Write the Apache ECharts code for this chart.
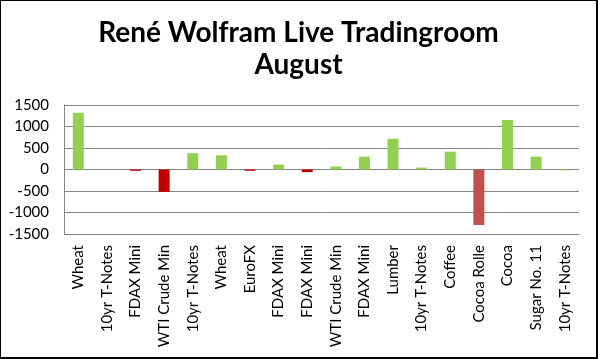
<!DOCTYPE html>
<html>
<head>
<meta charset="utf-8">
<script src="https://cdn.jsdelivr.net/npm/echarts@6/dist/echarts.min.js"></script>
<style>
html,body{margin:0;padding:0;background:#fff;}
#c{width:598px;height:359px;box-sizing:border-box;border:1px solid #000;border-right-width:2px;border-bottom-width:2px;}
</style>
</head>
<body>
<div id="c"></div>
<script>
const categories = ["Wheat","10yr T-Notes","FDAX Mini","WTI Crude Min","10yr T-Notes","Wheat","EuroFX","FDAX Mini","FDAX Mini","WTI Crude Min","FDAX Mini","Lumber","10yr T-Notes","Coffee","Cocoa Rolle","Cocoa","Sugar No. 11","10yr T-Notes"];
const values = [1320, 0, -30, -520, 380, 330, -30, 115, -60, 70, 300, 715, 45, 415, -1290, 1150, 300, -20];
const yTicks = [-1500, -1000, -500, 0, 500, 1000, 1500];

const barColors = ["#92d050","#92d050","#c00000","#c00000","#92d050","#92d050","#c00000","#92d050","#c00000","#92d050","#92d050","#92d050","#92d050","#92d050","#c0504d","#92d050","#92d050","#92d050"];

const chart = echarts.init(document.getElementById('c'), null, {renderer:'canvas'});
const font = 'Lato';
chart.setOption({
  animation:false,
  title:{
    text:'René Wolfram Live Tradingroom\nAugust',
    left:'center', top:11,
    textStyle:{fontFamily:font, fontWeight:'bold', fontSize:28, lineHeight:32, color:'#000'}
  },
  grid:{left:63, right:17, top:104, bottom:123, containLabel:false},
  xAxis:{
    type:'category', data:categories,
    axisLine:{show:false}, axisTick:{show:false},
    axisLabel:{rotate:90, interval:0, margin:11, fontFamily:font, fontSize:15, color:'#000'}
  },
  yAxis:{
    type:'value', min:yTicks[0], max:yTicks[yTicks.length-1], interval:500,
    axisLine:{show:true, lineStyle:{color:'#868686', width:1}},
    axisTick:{show:false},
    splitLine:{lineStyle:{color:'#868686', width:1}},
    axisLabel:{margin:15, fontFamily:font, fontSize:15, color:'#000', formatter:v=>String(v)}
  },
  series:[{
    type:'bar', barWidth:11,
    data: values.map((v,i)=>({value:v, itemStyle:{color:barColors[i]}}))
  }]
});
</script>
</body>
</html>
